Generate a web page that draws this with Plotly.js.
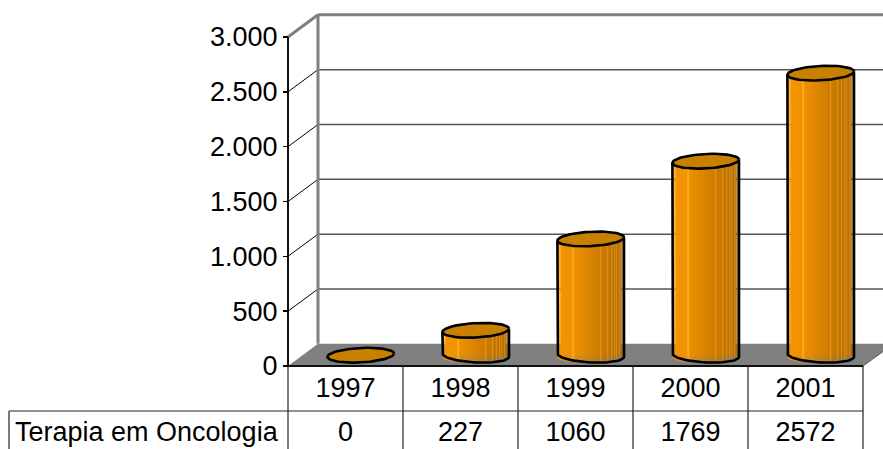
<!DOCTYPE html>
<html><head><meta charset="utf-8">
<script src="https://cdn.plot.ly/plotly-3.0.1.min.js"></script>
<style>html,body{margin:0;padding:0;background:#fff;overflow:hidden}#c{width:883px;height:449px}</style>
</head><body><div id="c"></div>
<script>
// ---- data ----
const years = ['1997','1998','1999','2000','2001'];
const seriesName = 'Terapia em Oncologia';
const values = [0, 227, 1060, 1769, 2572];
const yTickVals = [0,500,1000,1500,2000,2500,3000];
const yTickText = ['0','500','1.000','1.500','2.000','2.500','3.000'];

// ---- scale of the canvas (pixels per unit) ----
const W=883,H=449,pxX=115,pxY=329/3000,x0px=345.5,y0px=366;
const xRange=[(0-x0px)/pxX,(W-x0px)/pxX], yRange=[(y0px-H)/pxY,y0px/pxY];
const X=p=>(p-x0px)/pxX, Y=p=>(y0px-p)/pxY;   // pixel offsets -> axis units
const depthX=30/pxX, depthY=22.2/pxY;
const idx=years.map((_,i)=>i);
const left=-0.5,right=years.length-0.5;

// ---- shapes: walls, floor, grid, table ----
const shapes=[];
const line=(x1,y1,x2,y2,color,width)=>shapes.push({type:'line',xref:'x',yref:'y',x0:x1,y0:y1,x1:x2,y1:y2,layer:'below',line:{color,width}});
shapes.push({type:'path',xref:'x',yref:'y',layer:'below',fillcolor:'#808080',line:{width:0},
  path:`M${left},0 L${left+depthX},${depthY} L${xRange[1]},${depthY} L${xRange[1]},${depthY*0.65} L${right},0 Z`});
line(right,0,xRange[1],depthY*0.65,'#555',1);
yTickVals.forEach(v=>{
  const top=v===3000;
  if(v===0) return;
  line(left,v,left+depthX,v+depthY,top?'#808080':'#000',top?3:1);
  line(left+depthX,v+depthY,xRange[1],v+depthY,top?'#808080':'#555',top?3:1.5);
});
line(left+depthX,depthY,left+depthX,3000+depthY,'#808080',3);
line(left,0,left,3000,'#111',2);
line(left,0,right,0,'#111',2);
const row1=Y(411), tableLeft=X(9);
line(tableLeft,row1,right,row1,'#222',1.2);
line(tableLeft,row1,tableLeft,yRange[0],'#222',1.2);
for(let i=0;i<=years.length;i++) line(left+i,0,left+i,yRange[0],'#222',1.2);

// ---- cylinders ----
const R=33.3, B=7.2, tilt=0.05, cOffX=15.2/pxX, cOffY=10.8/pxY;
const stops=[[0,[255,153,0]],[0.22,[250,150,0]],[0.55,[212,128,0]],[0.8,[186,112,0]],[1,[165,100,0]]];
const streaks=[0.24,0.65,0.76,0.82,0.86,0.90,0.94];
function shade(t){
  let c=stops[0][1];
  for(let k=1;k<stops.length;k++){
    if(t<=stops[k][0]){
      const a=stops[k-1],b=stops[k],f=(t-a[0])/(b[0]-a[0]);
      c=a[1].map((v,j)=>v+(b[1][j]-v)*f);break;
    }
  }
  if(streaks.some(s=>Math.abs(s-t)<0.008)) c=c.map(v=>Math.min(255,v+38));
  return `rgb(${c.map(Math.round).join(',')})`;
}
const sx=[],sy=[],sb=[],sc=[];
const topX=[],topY=[],outX=[],outY=[];
values.forEach((v,i)=>{
  const cx=i+cOffX, by=cOffY;
  for(let k=0;k<2*R;k++){
    const d=k+0.5-R, t=(k+0.5)/(2*R);
    const lower=B*Math.sqrt(Math.max(0,1-d*d/(R*R)))+tilt*d*-1;
    sx.push(cx+d/pxX);
    sb.push(by-lower/pxY);
    sy.push(v);
    sc.push(shade(t));
  }
  // top ellipse
  for(let a=0;a<=72;a++){
    const th=a/72*2*Math.PI, dx=R*Math.cos(th), dy=B*Math.sin(th)-tilt*dx;
    topX.push(cx+dx/pxX); topY.push(by+v-dy/pxY);
  }
  topX.push(null); topY.push(null);
  // body outline: side, lower half of base, other side
  if(v>0){
    outX.push(cx-R/pxX); outY.push(by+v+(-tilt*R)/pxY);
    for(let a=36;a>=0;a--){
      const th=a/36*Math.PI, dx=R*Math.cos(th), dy=B*Math.sin(th)+tilt*dx;
      outX.push(cx+dx/pxX); outY.push(by-dy/pxY);
    }
    outX.push(cx+R/pxX); outY.push(by+v+(tilt*R)/pxY);
    outX.push(null); outY.push(null);
  }
});

const font={family:'"Liberation Sans",Arial,sans-serif',size:27,color:'#000'};
const rowY=Y(434);
const traces=[
  {type:'bar',name:seriesName,x:idx.map(i=>i+cOffX),y:values,base:values.map(()=>cOffY),width:60/pxX,
   marker:{color:'#d98500',line:{width:0}},hoverinfo:'skip'},
  {type:'bar',x:sx,y:sy,base:sb,width:1/pxX,marker:{color:sc,line:{width:0}},hoverinfo:'skip'},
  {type:'scatter',mode:'lines',x:outX,y:outY,line:{color:'#000',width:2.6},connectgaps:false,hoverinfo:'skip'},
  {type:'scatter',mode:'lines',x:topX,y:topY,fill:'toself',fillcolor:'#c88000',line:{color:'#000',width:2.6},connectgaps:false,hoverinfo:'skip'},
  {type:'scatter',mode:'text',x:idx,y:idx.map(()=>rowY),text:values.map(String),textposition:'middle center',textfont:font,hoverinfo:'skip',cliponaxis:false},
  {type:'scatter',mode:'text',x:[X(15)],y:[rowY],text:[seriesName],textposition:'middle right',textfont:font,hoverinfo:'skip',cliponaxis:false}
];
const layout={
  width:W,height:H,margin:{l:0,r:0,t:0,b:0},paper_bgcolor:'#fff',plot_bgcolor:'#fff',
  showlegend:false,barmode:'overlay',font,shapes,
  xaxis:{domain:[0,1],range:xRange,tickmode:'array',tickvals:idx,ticktext:years,showgrid:false,zeroline:false,showline:false,
    ticks:'',anchor:'free',position:(H-y0px)/H,ticklabelstandoff:3,tickfont:font,automargin:false},
  yaxis:{domain:[0,1],range:yRange,tickmode:'array',tickvals:yTickVals,ticktext:yTickText,showgrid:false,zeroline:false,showline:false,
    ticks:'outside',ticklen:5,tickwidth:1.5,tickcolor:'#000',anchor:'free',position:288/W,tickfont:font,automargin:false}
};
Plotly.newPlot('c',traces,layout,{displayModeBar:false,staticPlot:true});
</script></body></html>
